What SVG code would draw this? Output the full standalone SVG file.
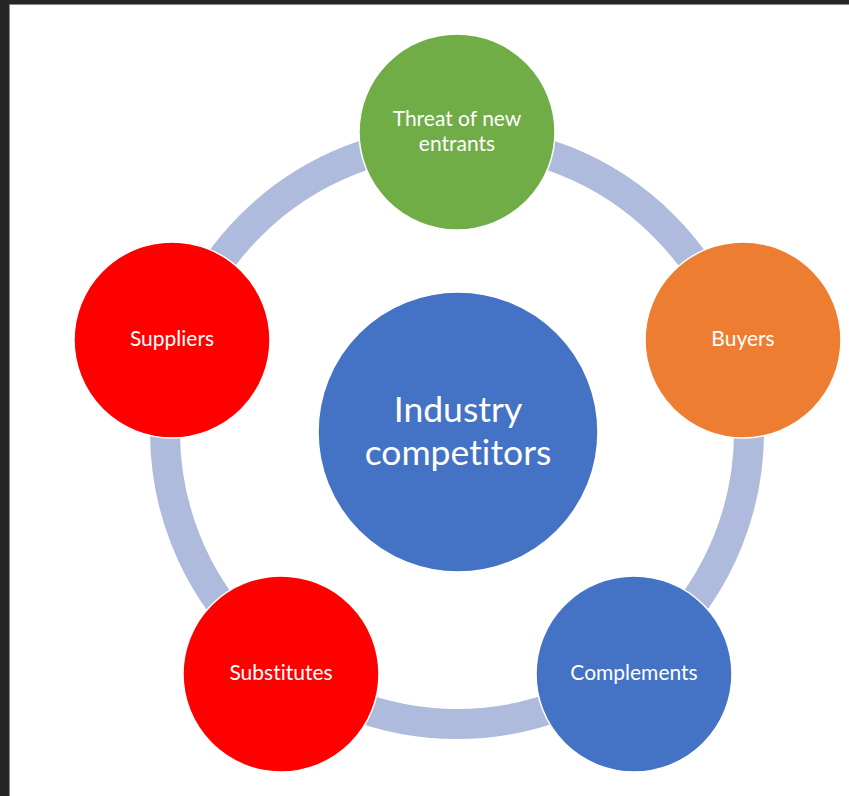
<svg xmlns="http://www.w3.org/2000/svg" width="849" height="796" viewBox="0 0 849 796">
<style>
.n{stroke:#fff;stroke-width:1.5}
.t{font-family:Lato,"Open Sans",sans-serif;fill:#fff;text-anchor:middle;font-size:21px;font-variant-ligatures:none}
.big{font-size:35.5px}
</style>
<rect x="0" y="0" width="849" height="796" fill="#262626"/>
<rect x="10" y="5" width="839" height="791" fill="#fff"/>
<path d="M9.5 796V4.5H849" fill="none" stroke="#8c8c8c" stroke-width="1"/>
<g id="connectors">
<circle cx="457" cy="432" r="292" fill="none" stroke="#AFBBDD" stroke-width="30"/>
</g>
<g id="center"><circle class="n" cx="458" cy="432" r="140" fill="#4472C4"/><text class="t big" x="458" y="422">Industry</text><text class="t big" x="458" y="465">competitors</text></g>
<g id="threat"><circle class="n" cx="457" cy="132" r="98" fill="#70AD47"/><text class="t" x="457" y="126">Threat of new</text><text class="t" x="457" y="151">entrants</text></g>
<g id="buyers"><circle class="n" cx="743" cy="340" r="98" fill="#ED7D31"/><text class="t" x="743" y="346">Buyers</text></g>
<g id="suppliers"><circle class="n" cx="172" cy="340" r="98" fill="#FF0000"/><text class="t" x="172" y="346">Suppliers</text></g>
<g id="substitutes"><circle class="n" cx="281" cy="674" r="98" fill="#FF0000"/><text class="t" x="281" y="680">Substitutes</text></g>
<g id="complements"><circle class="n" cx="634" cy="674" r="98" fill="#4472C4"/><text class="t" x="634" y="680">Complements</text></g>
</svg>
